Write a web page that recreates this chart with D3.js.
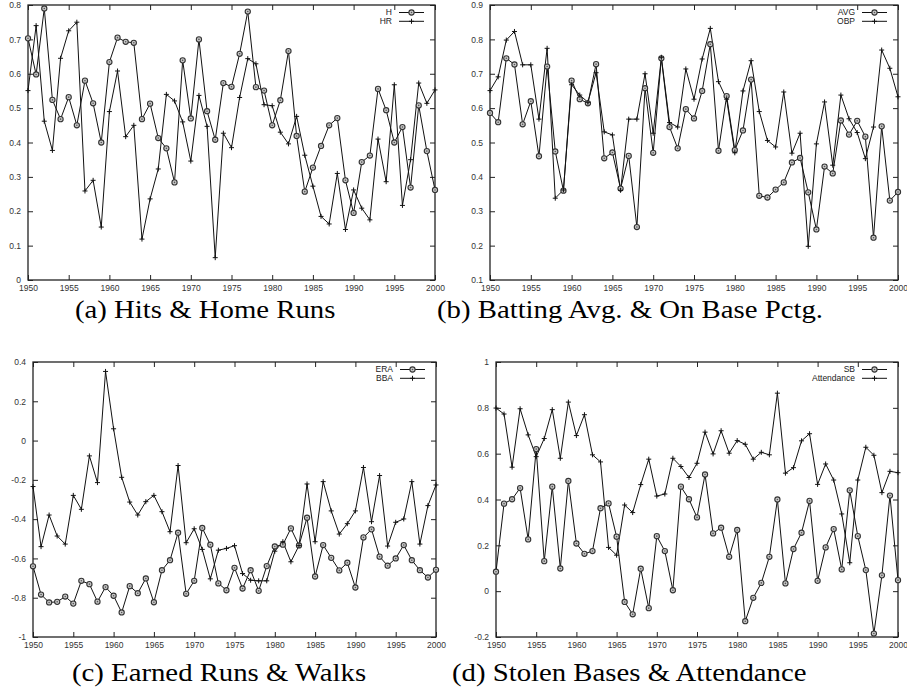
<!DOCTYPE html>
<html>
<head>
<meta charset="utf-8">
<script src="https://cdn.jsdelivr.net/npm/d3@7"></script>
<style>
  body { margin: 0; background: #fff; }
  text { font-family: 'Liberation Sans', Arial, sans-serif; }
</style>
</head>
<body>
<svg id="chart" width="907" height="687"></svg>
<script>
var years = d3.range(1950, 2001)
var xTicks = [1950, 1955, 1960, 1965, 1970, 1975, 1980, 1985, 1990, 1995, 2000]

var hits = [0.703, 0.598, 0.79, 0.524, 0.468, 0.532, 0.45, 0.58, 0.514, 0.40,
  0.634, 0.705, 0.693, 0.69, 0.468, 0.513, 0.413, 0.383, 0.284, 0.639,
  0.47, 0.70, 0.491, 0.408, 0.573, 0.562, 0.658, 0.781, 0.561, 0.551,
  0.45, 0.523, 0.666, 0.419, 0.257, 0.327, 0.39, 0.45, 0.471, 0.29,
  0.195, 0.343, 0.362, 0.556, 0.494, 0.40, 0.445, 0.269, 0.508, 0.375, 0.262]
var homeRuns = [0.551, 0.74, 0.462, 0.377, 0.645, 0.725, 0.75, 0.259, 0.29, 0.154,
  0.49, 0.608, 0.417, 0.45, 0.119, 0.236, 0.323, 0.54, 0.521, 0.46,
  0.346, 0.537, 0.447, 0.065, 0.427, 0.385, 0.531, 0.644, 0.629, 0.51,
  0.507, 0.43, 0.396, 0.476, 0.363, 0.273, 0.185, 0.163, 0.31, 0.147,
  0.262, 0.209, 0.175, 0.41, 0.286, 0.568, 0.217, 0.35, 0.573, 0.514, 0.553]

var avg = [0.586, 0.559, 0.745, 0.727, 0.553, 0.62, 0.46, 0.721, 0.474, 0.36,
  0.68, 0.626, 0.614, 0.728, 0.454, 0.471, 0.366, 0.461, 0.254, 0.658,
  0.47, 0.745, 0.545, 0.483, 0.597, 0.57, 0.65, 0.786, 0.476, 0.635,
  0.478, 0.535, 0.683, 0.345, 0.34, 0.363, 0.384, 0.442, 0.455, 0.355,
  0.247, 0.43, 0.41, 0.564, 0.523, 0.563, 0.517, 0.223, 0.547, 0.331, 0.356]
var obp = [0.651, 0.691, 0.798, 0.823, 0.726, 0.726, 0.568, 0.774, 0.338, 0.362,
  0.668, 0.638, 0.617, 0.703, 0.531, 0.522, 0.361, 0.568, 0.568, 0.70,
  0.527, 0.748, 0.558, 0.545, 0.714, 0.626, 0.743, 0.832, 0.677, 0.626,
  0.47, 0.65, 0.738, 0.59, 0.506, 0.487, 0.647, 0.469, 0.527, 0.198,
  0.496, 0.618, 0.434, 0.638, 0.569, 0.529, 0.453, 0.545, 0.769, 0.716, 0.633]

var era = [-0.64, -0.784, -0.824, -0.821, -0.794, -0.83, -0.714, -0.731, -0.82, -0.746,
  -0.79, -0.875, -0.741, -0.777, -0.702, -0.823, -0.66, -0.609, -0.469, -0.78,
  -0.714, -0.445, -0.53, -0.727, -0.762, -0.648, -0.753, -0.66, -0.765, -0.639,
  -0.539, -0.53, -0.447, -0.534, -0.393, -0.692, -0.532, -0.597, -0.661, -0.622,
  -0.748, -0.493, -0.452, -0.591, -0.637, -0.6, -0.532, -0.609, -0.66, -0.697, -0.658]
var bba = [-0.234, -0.54, -0.379, -0.486, -0.527, -0.279, -0.35, -0.078, -0.214, 0.352,
  0.06, -0.187, -0.313, -0.379, -0.311, -0.279, -0.362, -0.464, -0.127, -0.52,
  -0.449, -0.554, -0.704, -0.558, -0.549, -0.535, -0.677, -0.711, -0.714, -0.714,
  -0.563, -0.515, -0.617, -0.535, -0.221, -0.515, -0.209, -0.358, -0.476, -0.423,
  -0.358, -0.137, -0.413, -0.178, -0.537, -0.416, -0.399, -0.209, -0.527, -0.331, -0.226]

var sb = [0.085, 0.382, 0.401, 0.45, 0.226, 0.62, 0.131, 0.456, 0.099, 0.481,
  0.208, 0.163, 0.175, 0.362, 0.383, 0.238, -0.047, -0.101, 0.098, -0.074,
  0.24, 0.175, 0.004, 0.456, 0.401, 0.322, 0.509, 0.252, 0.277, 0.15,
  0.267, -0.131, -0.029, 0.036, 0.15, 0.4, 0.034, 0.184, 0.255, 0.394,
  0.045, 0.191, 0.271, 0.095, 0.44, 0.24, 0.092, -0.185, 0.069, 0.417, 0.048]
var attendance = [0.799, 0.773, 0.541, 0.796, 0.682, 0.587, 0.666, 0.792, 0.58, 0.825,
  0.679, 0.77, 0.595, 0.564, 0.191, 0.157, 0.376, 0.343, 0.465, 0.576,
  0.415, 0.424, 0.58, 0.544, 0.496, 0.558, 0.694, 0.599, 0.7, 0.602,
  0.657, 0.641, 0.576, 0.606, 0.595, 0.864, 0.515, 0.539, 0.656, 0.687,
  0.466, 0.555, 0.485, 0.337, 0.124, 0.485, 0.628, 0.593, 0.43, 0.523, 0.517]

var ticksA = [0, 0.1, 0.2, 0.3, 0.4, 0.5, 0.6, 0.7, 0.8]
var ticksB = [0.1, 0.2, 0.3, 0.4, 0.5, 0.6, 0.7, 0.8, 0.9]
var ticksC = [-1, -0.8, -0.6, -0.4, -0.2, 0, 0.2, 0.4]
var ticksD = [-0.2, 0, 0.2, 0.4, 0.6, 0.8, 1]

var svg = d3.select('#chart')

function circleMark(g, cx, cy) {
  g.append('circle').attr('cx', cx).attr('cy', cy).attr('r', 2.6)
    .attr('fill', '#c8c8c8').attr('stroke', '#333').attr('stroke-width', 1.1)
  g.append('circle').attr('cx', cx).attr('cy', cy).attr('r', 0.8).attr('fill', '#555')
}

function plusPath(cx, cy) {
  return 'M' + (cx - 2.5) + ',' + cy + 'H' + (cx + 2.5) + 'M' + cx + ',' + (cy - 2.5) + 'V' + (cy + 2.5)
}

function drawPanel(p) {
  var x = d3.scaleLinear().domain([1950, 2000]).range([p.left, p.right])
  var y = d3.scaleLinear().domain([p.yTicks[0], p.yTicks[p.yTicks.length - 1]]).range([p.bottom, p.top])
  var g = svg.append('g')

  function styleAxis(sel) {
    sel.select('.domain').remove()
    sel.selectAll('line').attr('stroke', '#222')
    sel.selectAll('text').attr('fill', '#333').style('font-size', '8.5px')
      .style('font-family', "'Liberation Sans', Arial, sans-serif")
  }
  g.append('g').attr('transform', 'translate(0,' + p.bottom + ')')
    .call(d3.axisBottom(x).tickValues(xTicks).tickSize(-5).tickSizeOuter(0).tickPadding(5).tickFormat(d3.format('d')))
    .call(styleAxis)
  g.append('g').attr('transform', 'translate(0,' + p.top + ')')
    .call(d3.axisTop(x).tickValues(xTicks).tickSize(-5).tickSizeOuter(0).tickFormat(''))
    .call(styleAxis)
  g.append('g').attr('transform', 'translate(' + p.left + ',0)')
    .call(d3.axisLeft(y).tickValues(p.yTicks).tickSize(-5).tickSizeOuter(0).tickPadding(7).tickFormat(d => String(d)))
    .call(styleAxis)
  g.append('g').attr('transform', 'translate(' + p.right + ',0)')
    .call(d3.axisRight(y).tickValues(p.yTicks).tickSize(-5).tickSizeOuter(0).tickFormat(''))
    .call(styleAxis)

  g.append('rect')
    .attr('x', p.left).attr('y', p.top)
    .attr('width', p.right - p.left).attr('height', p.bottom - p.top)
    .attr('fill', 'none').attr('stroke', '#222').attr('stroke-width', 1.3)

  var line = d3.line().x((d, i) => x(years[i])).y(d => y(d))
  p.series.forEach(function (vals) {
    g.append('path').datum(vals).attr('d', line)
      .attr('fill', 'none').attr('stroke', '#111').attr('stroke-width', 1)
  })

  // circles on the first series, plus signs on the second
  p.series[0].forEach((d, i) => circleMark(g, x(years[i]), y(d)))
  g.selectAll('path.plus').data(p.series[1]).enter().append('path')
    .attr('class', 'plus')
    .attr('d', (d, i) => plusPath(x(years[i]), y(d)))
    .attr('stroke', '#111').attr('stroke-width', 1)

  // legend
  p.names.forEach(function (name, k) {
    var ly = p.top + 7.5 + k * 8.8
    g.append('text').attr('x', p.right - 43).attr('y', ly).attr('dy', '0.35em')
      .attr('text-anchor', 'end').style('font-size', '8.5px').attr('fill', '#222').text(name)
    g.append('line').attr('x1', p.right - 36).attr('x2', p.right - 11)
      .attr('y1', ly).attr('y2', ly).attr('stroke', '#111').attr('stroke-width', 1)
    var mx = p.right - 23.5
    if (k === 0) circleMark(g, mx, ly)
    else g.append('path').attr('d', plusPath(mx, ly)).attr('stroke', '#111')
  })

  // caption
  var cap = svg.append('text').attr('x', p.capX).attr('y', p.capY)
    .style('font-family', "'Liberation Serif', 'Times New Roman', serif")
    .style('font-size', '25px').attr('fill', '#000').text(p.caption)
  var w = cap.node().getComputedTextLength()
  cap.attr('textLength', w * 1.15).attr('lengthAdjust', 'spacingAndGlyphs')
}

drawPanel({ left: 28, right: 435, top: 5, bottom: 280, yTicks: ticksA,
  series: [hits, homeRuns], names: ['H', 'HR'],
  caption: '(a) Hits & Home Runs', capX: 75, capY: 318 })
drawPanel({ left: 490, right: 898, top: 5, bottom: 280, yTicks: ticksB,
  series: [avg, obp], names: ['AVG', 'OBP'],
  caption: '(b) Batting Avg. & On Base Pctg.', capX: 437, capY: 318 })
drawPanel({ left: 33, right: 436, top: 362, bottom: 637, yTicks: ticksC,
  series: [era, bba], names: ['ERA', 'BBA'],
  caption: '(c) Earned Runs & Walks', capX: 72, capY: 681 })
drawPanel({ left: 496, right: 898, top: 362, bottom: 637, yTicks: ticksD,
  series: [sb, attendance], names: ['SB', 'Attendance'],
  caption: '(d) Stolen Bases & Attendance', capX: 452, capY: 681 })
</script>
</body>
</html>
